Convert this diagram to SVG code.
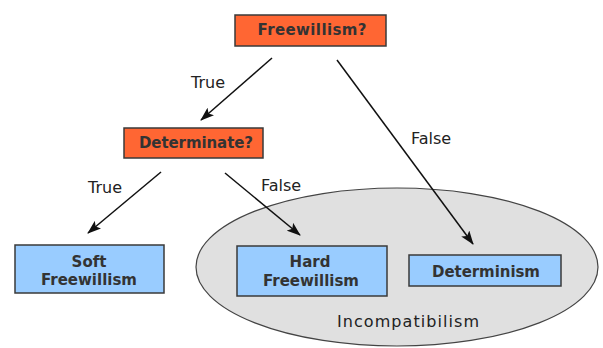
<svg xmlns="http://www.w3.org/2000/svg" width="603" height="348" viewBox="0 0 603 348">
<defs>
<marker id="arr" viewBox="0 0 14 10" refX="13" refY="5" markerWidth="14" markerHeight="10" markerUnits="userSpaceOnUse" orient="auto">
<path d="M0,0 L14,5 L0,10 L3,5 Z" fill="#111"/>
</marker>
<style>
.q{fill:#ff6633;stroke:#3a3a3a;stroke-width:1.5}
.b{fill:#99ccff;stroke:#3a3a3a;stroke-width:1.5}
.t{font-family:"DejaVu Sans",sans-serif;font-weight:bold;font-size:15px;fill:#333;text-anchor:middle}
.l{font-family:"DejaVu Sans",sans-serif;font-size:16px;fill:#222;text-anchor:middle}
.c{stroke:#111;stroke-width:1.5;fill:none;marker-end:url(#arr)}
</style>
</defs>
<rect width="603" height="348" fill="#fff"/>
<g id="incompatibilism">
<ellipse cx="397" cy="267" rx="201" ry="79" fill="#e0e0e0" stroke="#444" stroke-width="1.2"/>
<text class="l" x="408" y="327" textLength="142" lengthAdjust="spacing">Incompatibilism</text>
</g>
<g id="freewillism">
<rect class="q" x="235" y="15" width="151" height="31"/>
<text class="t" x="312" y="35" textLength="109" lengthAdjust="spacing">Freewillism?</text>
</g>
<g id="determinate">
<rect class="q" x="124" y="128" width="139" height="30"/>
<text class="t" x="196" y="148" textLength="114" lengthAdjust="spacing">Determinate?</text>
</g>
<g id="soft">
<rect class="b" x="15" y="245" width="149" height="48"/>
<text class="t" x="89" y="267">Soft</text>
<text class="t" x="89" y="285">Freewillism</text>
</g>
<g id="hard">
<rect class="b" x="237" y="246" width="150" height="50"/>
<text class="t" x="310" y="267">Hard</text>
<text class="t" x="311" y="286">Freewillism</text>
</g>
<g id="determinism">
<rect class="b" x="409" y="255" width="152" height="31"/>
<text class="t" x="486" y="277" textLength="108" lengthAdjust="spacing">Determinism</text>
</g>
<g id="connectors">
<line class="c" x1="272" y1="58" x2="201" y2="120"/>
<line class="c" x1="337" y1="60" x2="473" y2="244"/>
<line class="c" x1="161" y1="172" x2="88" y2="233"/>
<line class="c" x1="225" y1="173" x2="300" y2="235"/>
<text class="l" x="208" y="88">True</text>
<text class="l" x="431" y="144">False</text>
<text class="l" x="105" y="193">True</text>
<text class="l" x="281" y="191">False</text>
</g>
</svg>
